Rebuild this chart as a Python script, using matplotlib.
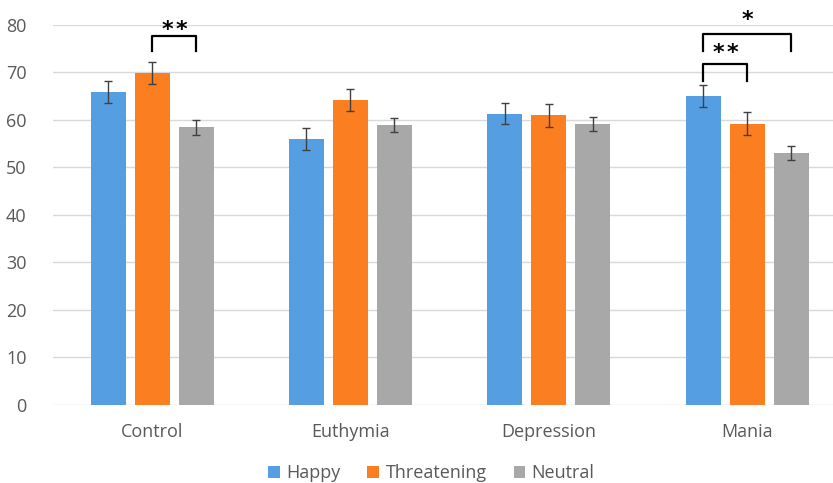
import numpy as np
import matplotlib
matplotlib.use("Agg")
import matplotlib.pyplot as plt

plt.rcParams['font.family'] = ['Open Sans', 'DejaVu Sans']

groups = ['Control', 'Euthymia', 'Depression', 'Mania']
series = ['Happy', 'Threatening', 'Neutral']
happy = [65.9, 56.0, 61.3, 65.1]
threatening = [69.9, 64.2, 61.0, 59.2]
neutral = [58.5, 58.9, 59.2, 53.0]
happy_err = [2.3, 2.3, 2.2, 2.3]
threatening_err = [2.4, 2.4, 2.4, 2.4]
neutral_err = [1.6, 1.5, 1.5, 1.5]
colors = ['#559EE2', '#FB7E21', '#A8A8A8']

fig = plt.figure(figsize=(8.33, 4.83), dpi=100)
ax = fig.add_axes([0.0636, 0.1615, 0.9364, 0.7868])

x = np.arange(len(groups))
w = 0.176
step = 0.222
vals = [happy, threatening, neutral]
errs = [happy_err, threatening_err, neutral_err]
for i, (v, e, c, lab) in enumerate(zip(vals, errs, colors, series)):
    ax.bar(x + (i - 1) * step, v, w, color=c, label=lab, zorder=2,
           yerr=e, capsize=3,
           error_kw=dict(ecolor='#404040', elinewidth=1, capthick=1))

ax.set_ylim(0, 80)
ax.set_xlim(-0.5, 3.433)
ax.set_yticks(np.arange(0, 81, 10))
ax.grid(axis='y', color='#D9D9D9', linewidth=1, zorder=0)
for s in ax.spines.values():
    s.set_visible(False)
ax.tick_params(axis='both', length=0, labelsize=13, colors='#595959')
ax.tick_params(axis='y', pad=19)
ax.tick_params(axis='x', pad=13)
ax.set_xticks(x)
ax.set_xticklabels(groups)


def bracket(x1, x2, y_low, y_high, nstars, ytext):
    ax.plot([x1, x1, x2, x2], [y_low, y_high, y_high, y_low],
            color='black', linewidth=1.6, clip_on=False, zorder=3,
            solid_joinstyle='round')
    mid = (x1 + x2) / 2
    offs = [0.0] if nstars == 1 else [-0.035, 0.035]
    for o in offs:
        ax.text(mid + o, ytext, '*', ha='center', va='center',
                fontsize=16, fontweight='bold', family='DejaVu Sans',
                clip_on=False)


bracket(0, step, 74.6, 77.6, 2, 78.9)
bracket(3 - step, 3, 68.2, 71.7, 2, 74.2)
bracket(3 - step, 3 + step, 74.5, 78.2, 1, 81.0)

leg = ax.legend(loc='center', bbox_to_anchor=(0.485, -0.18), ncol=3,
                frameon=False, fontsize=13, handlelength=0.65, handleheight=0.65,
                handletextpad=0.35, columnspacing=1.5)
for t in leg.get_texts():
    t.set_color('#595959')

fig.savefig('out.png', dpi=100)
